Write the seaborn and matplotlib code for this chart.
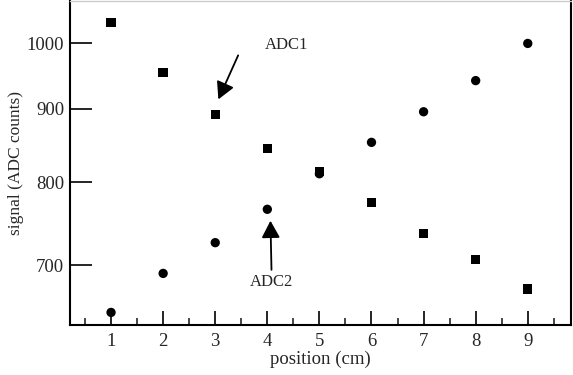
import matplotlib
matplotlib.use("Agg")
import matplotlib.pyplot as plt
from matplotlib.ticker import FixedLocator, MultipleLocator, NullLocator, FixedFormatter
import seaborn as sns
import pandas as pd

# values
position = [1, 2, 3, 4, 5, 6, 7, 8, 9]
adc1 = [1034, 954, 892, 845, 814, 774, 737, 707, 674]
adc2 = [649, 691, 726, 766, 811, 853, 896, 942, 1000]
y_ticks = [700, 800, 900, 1000]

df = pd.concat([
    pd.DataFrame({"position": position, "signal": adc1, "channel": "ADC1"}),
    pd.DataFrame({"position": position, "signal": adc2, "channel": "ADC2"}),
])

sns.set_style("ticks")
plt.rcParams["font.family"] = ["Liberation Serif", "DejaVu Serif"]

fig = plt.figure(figsize=(5.73, 3.75), dpi=100)
ax = fig.add_axes([0.122, 0.1333, 0.8745, 0.8647])

sns.scatterplot(
    data=df, x="position", y="signal", style="channel",
    markers={"ADC1": "s", "ADC2": "o"}, color="black",
    s=45, edgecolor="black", linewidth=0, legend=False, ax=ax,
)

ax.set_yscale("log")
ax.set_xlim(0.21, 9.83)
ax.set_ylim(636, 1071)

ax.xaxis.set_major_locator(MultipleLocator(1))
ax.xaxis.set_minor_locator(MultipleLocator(0.5))
ax.yaxis.set_major_locator(FixedLocator(y_ticks))
ax.yaxis.set_major_formatter(FixedFormatter([str(v) for v in y_ticks]))
ax.yaxis.set_minor_locator(NullLocator())

ax.tick_params(axis="x", which="major", direction="in", length=10, width=1.2,
               labelsize=13.5, pad=6, color="black")
ax.tick_params(axis="x", which="minor", direction="in", length=5, width=1.2)
ax.tick_params(axis="y", which="major", direction="in", length=16, width=1.2,
               labelsize=13.5, pad=4, color="black")

for side in ["left", "bottom", "right"]:
    ax.spines[side].set_linewidth(1.5)
    ax.spines[side].set_color("black")
ax.spines["top"].set_color("#cccccc")
ax.spines["top"].set_linewidth(1.0)

ax.set_xlabel("position (cm)", fontsize=13.5, labelpad=0)
ax.set_ylabel("signal (ADC counts)", fontsize=12.5, labelpad=2)

arrow = dict(arrowstyle="-|>,head_length=0.65,head_width=0.35",
             color="black", lw=1.3, mutation_scale=16, shrinkA=0, shrinkB=0)

ax.annotate("", xy=(3.06, 914), xytext=(3.44, 981), arrowprops=arrow)
ax.text(3.96, 998, "ADC1", fontsize=12, ha="left", va="center")

ax.annotate("", xy=(4.06, 752), xytext=(4.08, 695), arrowprops=arrow)
ax.text(4.08, 681, "ADC2", fontsize=12, ha="center", va="center")

fig.savefig("out.png", dpi=100)
